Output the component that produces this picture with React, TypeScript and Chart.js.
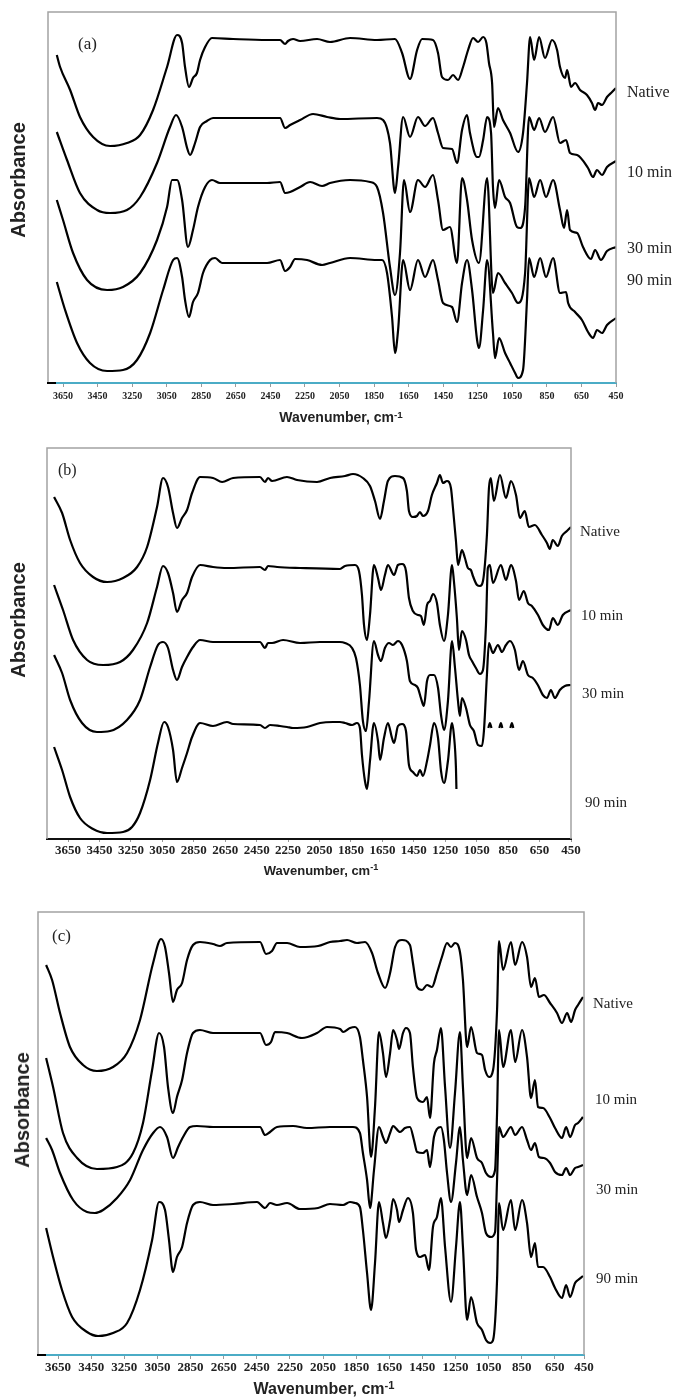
import React, { useEffect, useRef } from 'react';
import { Chart, registerables } from 'chart.js';

Chart.register(...registerables);

type Pt = [number, number | null];

// x-axis tick labels (wavenumber, cm-1)
const wavenumberTicks = [3650, 3450, 3250, 3050, 2850, 2650, 2450, 2250, 2050, 1850, 1650, 1450, 1250, 1050, 850, 650, 450];
const seriesNames = ['Native', '10 min', '30 min', '90 min'];

// ---------- Panel (a) : [wavenumber, absorbance (a.u., stacked)] ----------
const aNative: Pt[] = [[3686,328],[3667,316],[3609,293],[3552,266],[3476,246],[3378,237],[3280,240],[3204,248],[3129,273],[3048,316],[2990,348],[2961,340],[2944,316],[2921,296],[2898,305],[2875,310],[2857,323],[2828,336],[2788,345],[2666,344],[2469,343],[2394,343],[2365,339],[2348,342],[2319,344],[2278,342],[2180,344],[2105,341],[1989,345],[1833,343],[1729,344],[1688,330],[1642,304],[1601,333],[1572,344],[1509,343],[1480,330],[1457,306],[1422,303],[1393,308],[1364,303],[1335,316],[1306,333],[1277,345],[1248,341],[1219,346],[1200,340],[1185,320],[1167,300],[1156,256],[1133,275],[1104,263],[1063,250],[1017,231],[988,250],[965,300],[947,346],[924,323],[895,346],[861,325],[820,343],[791,333],[774,316],[745,305],[733,313],[710,296],[687,300],[658,293],[618,288],[589,280],[571,273],[554,280],[531,278],[502,286],[473,291],[450,295]];
const a10min: Pt[] = [[3686,251],[3627,223],[3552,190],[3453,173],[3378,170],[3280,173],[3204,186],[3106,220],[3031,256],[2996,268],[2961,256],[2932,235],[2915,228],[2886,240],[2857,256],[2817,262],[2782,265],[2469,265],[2394,265],[2365,255],[2336,258],[2278,263],[2203,269],[2122,266],[2047,264],[1833,265],[1798,263],[1758,240],[1729,190],[1711,216],[1682,266],[1642,246],[1596,266],[1555,257],[1509,265],[1480,250],[1451,235],[1399,234],[1370,220],[1341,253],[1312,268],[1295,250],[1254,226],[1243,226],[1219,243],[1196,266],[1173,250],[1162,196],[1150,175],[1127,203],[1092,186],[1063,180],[1023,156],[1005,155],[976,176],[953,266],[924,253],[895,265],[861,251],[814,266],[774,240],[739,243],[716,230],[675,228],[612,215],[583,206],[560,213],[531,208],[502,216],[450,222]];
const a30min: Pt[] = [[3686,183],[3650,163],[3592,130],[3511,103],[3395,93],[3303,96],[3204,110],[3106,143],[3048,176],[3019,203],[2990,203],[2961,183],[2927,136],[2898,153],[2869,176],[2828,196],[2788,203],[2742,200],[2469,200],[2394,201],[2365,190],[2336,191],[2278,196],[2220,201],[2151,197],[2105,200],[1989,203],[1873,201],[1833,196],[1798,170],[1758,116],[1729,88],[1700,130],[1677,203],[1642,171],[1596,203],[1555,196],[1509,208],[1480,183],[1451,153],[1411,156],[1370,120],[1341,205],[1312,183],[1283,143],[1243,120],[1196,205],[1162,90],[1133,110],[1092,100],[1052,90],[1017,80],[976,110],[953,205],[924,186],[889,203],[855,186],[814,203],[774,173],[751,155],[733,173],[716,153],[675,150],[641,136],[595,124],[571,133],[537,123],[502,132],[450,136]];
const a90min: Pt[] = [[3686,101],[3638,73],[3569,40],[3494,20],[3395,12],[3303,13],[3222,23],[3146,50],[3071,93],[3013,123],[2990,125],[2961,106],[2944,83],[2921,66],[2898,81],[2869,90],[2840,110],[2799,123],[2770,125],[2730,120],[2469,120],[2394,123],[2365,112],[2336,116],[2307,124],[2238,123],[2151,118],[2105,120],[1989,125],[1833,123],[1804,123],[1775,110],[1746,66],[1729,30],[1711,53],[1682,123],[1642,93],[1596,123],[1555,106],[1509,123],[1480,103],[1451,80],[1399,76],[1370,61],[1341,100],[1312,123],[1283,93],[1254,43],[1243,35],[1219,73],[1196,123],[1162,50],[1150,25],[1127,45],[1092,30],[1063,20],[1034,10],[1017,5],[988,13],[965,83],[953,125],[924,106],[889,125],[855,106],[814,125],[774,90],[739,91],[727,80],[687,71],[647,63],[612,51],[583,45],[560,53],[531,50],[502,58],[450,65]];

// ---------- Panel (b) ----------
const bNative: Pt[] = [[3739,342],[3688,326],[3637,299],[3574,276],[3491,262],[3402,257],[3300,261],[3211,272],[3147,292],[3084,332],[3046,361],[3014,352],[2982,326],[2957,311],[2925,321],[2893,329],[2861,346],[2810,362],[2728,361],[2670,357],[2600,361],[2429,362],[2397,357],[2378,361],[2352,358],[2257,362],[2193,359],[2066,357],[1983,361],[1888,363],[1837,365],[1774,361],[1729,353],[1697,338],[1665,320],[1640,338],[1615,358],[1570,363],[1519,361],[1494,348],[1481,328],[1456,322],[1430,323],[1411,327],[1392,323],[1360,328],[1335,344],[1303,356],[1284,364],[1265,356],[1239,358],[1214,351],[1201,331],[1182,298],[1169,274],[1144,289],[1125,281],[1106,271],[1087,269],[1074,263],[1048,254],[1029,253],[1010,258],[985,304],[972,351],[960,361],[941,338],[902,364],[864,341],[832,358],[800,344],[775,321],[744,328],[718,312],[680,314],[635,304],[603,296],[585,290],[566,299],[534,293],[508,303],[476,308],[450,312]];
const b10min: Pt[] = [[3739,254],[3682,229],[3618,199],[3529,179],[3427,174],[3319,177],[3237,189],[3147,216],[3084,252],[3046,273],[3014,266],[2982,246],[2957,227],[2925,239],[2893,246],[2861,262],[2810,274],[2728,272],[2639,271],[2429,272],[2397,269],[2378,273],[2320,272],[2174,271],[1920,270],[1888,273],[1824,274],[1799,268],[1780,244],[1767,214],[1748,199],[1729,224],[1704,274],[1678,261],[1659,249],[1634,264],[1615,274],[1576,264],[1551,274],[1525,275],[1500,268],[1481,241],[1456,228],[1424,224],[1405,223],[1386,214],[1366,234],[1347,238],[1328,245],[1303,236],[1284,214],[1258,198],[1233,224],[1207,274],[1195,258],[1176,221],[1163,189],[1144,208],[1118,199],[1099,184],[1080,178],[1055,171],[1029,165],[1010,169],[991,214],[979,271],[966,274],[947,256],[896,274],[864,259],[832,274],[800,258],[781,239],[750,248],[724,236],[699,233],[660,224],[629,214],[590,209],[566,221],[534,214],[502,224],[450,229]];
const b30min: Pt[] = [[3739,184],[3688,166],[3637,139],[3561,116],[3466,107],[3383,108],[3275,119],[3192,139],[3128,172],[3078,194],[3046,197],[3014,191],[2982,169],[2957,159],[2925,172],[2893,182],[2855,192],[2810,199],[2728,197],[2429,197],[2397,191],[2378,196],[2352,196],[2282,199],[2174,196],[2047,197],[1920,197],[1888,196],[1843,191],[1818,181],[1793,154],[1774,118],[1754,108],[1735,138],[1704,198],[1678,184],[1659,178],[1634,191],[1608,196],[1583,194],[1551,198],[1525,194],[1494,178],[1475,158],[1443,154],[1424,151],[1405,141],[1386,133],[1366,158],[1347,164],[1322,164],[1296,151],[1277,124],[1258,109],[1233,138],[1207,198],[1188,171],[1169,138],[1157,123],[1144,141],[1118,131],[1093,114],[1068,108],[1042,94],[1017,93],[1004,108],[985,164],[972,196],[947,186],[915,194],[889,187],[864,194],[839,198],[807,189],[781,169],[756,178],[724,164],[693,161],[661,154],[629,144],[603,141],[578,149],[553,141],[521,149],[489,153],[450,154]];
const b90min: Pt[] = [[3739,92],[3688,69],[3637,42],[3574,21],[3491,10],[3402,6],[3300,7],[3243,12],[3192,26],[3128,59],[3078,96],[3039,117],[3014,112],[2982,89],[2957,57],[2925,71],[2893,86],[2861,102],[2810,116],[2728,113],[2639,117],[2600,115],[2429,114],[2397,111],[2365,114],[2302,113],[2257,112],[2219,111],[2130,112],[2047,116],[1964,117],[1920,117],[1888,116],[1843,114],[1812,116],[1793,111],[1780,84],[1761,58],[1748,50],[1729,78],[1704,116],[1678,98],[1665,79],[1640,101],[1615,116],[1589,101],[1576,96],[1551,113],[1525,115],[1500,108],[1481,74],[1456,67],[1430,63],[1411,69],[1392,63],[1366,78],[1347,94],[1322,116],[1296,101],[1277,68],[1258,56],[1233,78],[1207,116],[1195,104],[1182,71],[1179,50],[1100,null],[976,111],[966,116],[956,111],[930,null],[906,111],[896,116],[887,111],[860,null],[836,111],[826,116],[817,111]];

// ---------- Panel (c) ----------
const cNative: Pt[] = [[3722,390],[3686,375],[3638,342],[3578,308],[3499,290],[3415,284],[3318,288],[3233,302],[3155,335],[3076,392],[3028,416],[3004,408],[2980,382],[2956,353],[2932,365],[2901,372],[2871,395],[2835,410],[2793,413],[2714,411],[2672,409],[2630,412],[2430,413],[2394,401],[2358,404],[2328,412],[2267,412],[2189,408],[2080,409],[2008,413],[1947,414],[1905,415],[1845,412],[1796,413],[1754,402],[1718,382],[1675,367],[1645,382],[1615,408],[1573,415],[1525,410],[1507,392],[1482,368],[1452,365],[1422,370],[1392,368],[1362,382],[1332,398],[1301,412],[1277,408],[1253,412],[1223,403],[1205,375],[1180,308],[1156,328],[1120,302],[1090,300],[1071,285],[1047,278],[1023,285],[999,345],[987,414],[963,385],[915,413],[890,390],[848,413],[818,398],[794,368],[770,377],[746,358],[716,360],[679,352],[637,342],[607,332],[576,342],[552,333],[528,345],[510,350],[480,358]];
const c10min: Pt[] = [[3722,297],[3680,268],[3620,222],[3535,197],[3415,186],[3294,188],[3197,202],[3137,232],[3082,285],[3040,322],[3010,308],[2986,268],[2956,242],[2932,258],[2901,275],[2871,302],[2835,322],[2793,325],[2714,322],[2430,322],[2394,310],[2364,313],[2340,323],[2267,322],[2177,317],[2086,322],[2026,328],[1947,326],[1929,323],[1887,327],[1857,328],[1827,318],[1809,295],[1784,258],[1760,198],[1736,248],[1712,323],[1688,302],[1670,278],[1645,302],[1627,325],[1603,315],[1591,306],[1567,322],[1549,327],[1525,322],[1507,288],[1482,257],[1446,253],[1422,258],[1404,237],[1380,292],[1362,305],[1338,327],[1313,268],[1283,207],[1253,262],[1223,323],[1205,268],[1180,197],[1156,217],[1120,197],[1090,192],[1066,182],[1035,178],[1011,185],[999,242],[987,325],[963,288],[915,325],[890,293],[848,325],[818,298],[794,257],[770,275],[752,248],[721,247],[679,237],[649,227],[607,217],[582,228],[558,218],[528,230],[510,232],[480,238]];
const c30min: Pt[] = [[3722,217],[3686,205],[3638,182],[3559,155],[3475,143],[3427,142],[3378,145],[3294,157],[3215,175],[3137,205],[3076,222],[3034,228],[2992,218],[2956,197],[2925,208],[2895,218],[2853,228],[2811,229],[2714,228],[2430,228],[2400,220],[2370,223],[2328,228],[2231,229],[2147,227],[2008,228],[1869,228],[1827,222],[1809,202],[1784,175],[1766,147],[1742,185],[1712,228],[1688,218],[1670,212],[1645,222],[1627,229],[1585,223],[1555,227],[1525,228],[1501,215],[1482,203],[1446,202],[1422,205],[1404,188],[1380,218],[1362,226],[1338,228],[1320,215],[1301,182],[1277,153],[1247,192],[1223,228],[1205,195],[1180,160],[1156,180],[1120,158],[1090,142],[1066,122],[1035,118],[1011,123],[999,175],[987,228],[963,218],[915,228],[890,220],[848,228],[818,215],[794,205],[770,212],[746,198],[716,197],[679,192],[649,183],[607,180],[582,187],[558,180],[528,187],[510,188],[480,190]];
const c90min: Pt[] = [[3722,127],[3680,98],[3626,65],[3565,38],[3475,23],[3408,19],[3318,22],[3233,32],[3155,65],[3082,115],[3040,153],[3004,145],[2980,115],[2956,83],[2932,98],[2901,108],[2871,132],[2835,150],[2793,153],[2714,150],[2593,151],[2448,153],[2400,147],[2370,152],[2328,150],[2267,152],[2189,146],[2080,147],[2008,151],[1929,150],[1887,153],[1857,152],[1827,148],[1809,125],[1784,82],[1760,45],[1736,92],[1712,153],[1688,132],[1670,117],[1645,135],[1627,156],[1603,145],[1591,133],[1567,145],[1537,157],[1507,142],[1488,105],[1464,98],[1434,100],[1410,85],[1386,128],[1362,138],[1338,157],[1313,108],[1277,53],[1247,108],[1223,153],[1205,108],[1180,35],[1156,58],[1120,32],[1090,25],[1066,15],[1041,12],[1023,15],[999,75],[987,152],[963,125],[915,155],[890,125],[848,155],[818,132],[794,98],[770,112],[752,88],[721,88],[679,78],[649,67],[607,57],[582,70],[558,58],[528,72],[510,75],[480,79]];

type PanelCfg = {
  series: Pt[][];
  xMin: number;
  xMax: number;
  yMax: number;
  left: number; right: number; top: number; bottom: number;
  axisColor: string;
  blackStub: boolean;
  tickSize: number; tickLength: number; tickPad: number;
};

const PAD = 30;
const PADT = 6;
const AXIS_H = 30;

const framePlugin = {
  id: 'frame',
  afterDatasetsDraw(chart: any, _args: any, opts: any) {
    const { ctx, chartArea: a } = chart;
    ctx.save();
    ctx.strokeStyle = '#a3a3a3';
    ctx.lineWidth = 1.5;
    ctx.beginPath();
    ctx.moveTo(a.left, a.bottom);
    ctx.lineTo(a.left, a.top);
    ctx.lineTo(a.right, a.top);
    ctx.lineTo(a.right, a.bottom);
    ctx.stroke();
    if (opts && opts.blackStub) {
      ctx.strokeStyle = '#000';
      ctx.lineWidth = 2;
      ctx.beginPath();
      ctx.moveTo(a.left - 1, a.bottom);
      ctx.lineTo(a.left + 8, a.bottom);
      ctx.stroke();
    }
    ctx.restore();
  },
};

function Panel({ cfg }: { cfg: PanelCfg }) {
  const ref = useRef<HTMLCanvasElement>(null);
  const w = cfg.right - cfg.left + 2 * PAD;
  const h = PADT + (cfg.bottom - cfg.top) + AXIS_H;
  useEffect(() => {
    if (!ref.current) return;
    const chart = new Chart(ref.current, {
      type: 'line',
      data: {
        datasets: cfg.series.map((s, i) => ({
          label: seriesNames[i],
          data: s.map(([x, y]) => ({ x, y })),
          borderColor: '#000',
          borderWidth: 2.2,
          pointRadius: 0,
          fill: false,
          spanGaps: false,
          cubicInterpolationMode: 'monotone',
        })),
      } as any,
      options: {
        animation: false,
        responsive: false,
        maintainAspectRatio: false,
        devicePixelRatio: 1,
        layout: { padding: { left: PAD, right: PAD, top: PADT, bottom: 0 } },
        plugins: {
          legend: { display: false },
          tooltip: { enabled: false },
          frame: { blackStub: cfg.blackStub },
        } as any,
        scales: {
          x: {
            type: 'linear',
            reverse: true,
            min: cfg.xMin,
            max: cfg.xMax,
            afterBuildTicks: (scale: any) => {
              // the last label sits at the axis end (squeezed, as in the original)
              scale.ticks = wavenumberTicks.map((v) => ({ value: Math.max(v, cfg.xMin) }));
            },
            afterFit: (scale: any) => {
              scale.height = AXIS_H;
            },
            grid: { drawOnChartArea: false, drawTicks: true, tickLength: cfg.tickLength, color: '#9a9a9a' },
            border: { display: true, color: cfg.axisColor, width: 2 },
            ticks: {
              autoSkip: false,
              maxRotation: 0,
              minRotation: 0,
              padding: cfg.tickPad,
              color: '#222',
              font: { family: 'Liberation Serif', weight: 'bold', size: cfg.tickSize },
              callback: (_v: any, idx: number) => String(wavenumberTicks[idx]),
            },
          },
          y: { display: false, min: 0, max: cfg.yMax },
        },
      } as any,
      plugins: [framePlugin],
    });
    return () => chart.destroy();
  }, []);
  return (
    <canvas
      ref={ref}
      width={w}
      height={h}
      style={{ position: 'absolute', left: cfg.left - PAD, top: cfg.top - PADT, width: w, height: h }}
    />
  );
}

type TextProps = {
  x: number; y: number; text: React.ReactNode; size: number;
  family?: string; bold?: boolean; center?: boolean; rotate?: boolean;
};

function Txt({ x, y, text, size, family = 'Liberation Serif', bold = false, center = false, rotate = false }: TextProps) {
  let transform = center ? 'translate(-50%,-50%)' : 'translateY(-50%)';
  if (rotate) transform = 'translate(-50%,-50%) rotate(-90deg)';
  return (
    <div
      style={{
        position: 'absolute', left: x, top: y, transform, fontSize: size, fontFamily: family,
        fontWeight: bold ? 'bold' : 'normal', whiteSpace: 'nowrap', lineHeight: 1, color: '#222',
      }}
    >
      {text}
    </div>
  );
}

const panelA: PanelCfg = { series: [aNative, a10min, a30min, a90min], xMin: 450, xMax: 3737, yMax: 371, left: 48, right: 616, top: 12, bottom: 383, axisColor: '#4bacc6', blackStub: true, tickSize: 10, tickLength: 4, tickPad: 3 };
const panelB: PanelCfg = { series: [bNative, b10min, b30min, b90min], xMin: 450, xMax: 3784, yMax: 391, left: 47, right: 571, top: 448, bottom: 839, axisColor: '#111', blackStub: false, tickSize: 13, tickLength: 3, tickPad: 1 };
const panelC: PanelCfg = { series: [cNative, c10min, c30min, c90min], xMin: 474, xMax: 3771, yMax: 443, left: 38, right: 584, top: 912, bottom: 1355, axisColor: '#4bacc6', blackStub: true, tickSize: 13, tickLength: 4, tickPad: 1 };

const wnTitle = (
  <span>
    Wavenumber, cm<sup style={{ fontSize: '0.7em', verticalAlign: '0.45em', lineHeight: 0 }}>-1</sup>
  </span>
);

export default function App() {
  return (
    <div style={{ position: 'absolute', left: 0, top: 0, width: 679, height: 1398, background: '#fff', overflow: 'hidden' }}>
      <Panel cfg={panelA} />
      <Panel cfg={panelB} />
      <Panel cfg={panelC} />

      {/* panel (a) */}
      <Txt x={78} y={43} text="(a)" size={17} />
      <Txt x={18} y={180} text="Absorbance" size={20} family="Liberation Sans" bold rotate />
      <Txt x={341} y={417} text={wnTitle} size={14} family="Liberation Sans" bold center />
      <Txt x={627} y={92} text="Native" size={16} />
      <Txt x={627} y={172} text="10 min" size={16} />
      <Txt x={627} y={248} text="30 min" size={16} />
      <Txt x={627} y={280} text="90 min" size={16} />

      {/* panel (b) */}
      <Txt x={58} y={470} text="(b)" size={16} />
      <Txt x={18} y={620} text="Absorbance" size={20} family="Liberation Sans" bold rotate />
      <Txt x={321} y={870} text={wnTitle} size={13} family="Liberation Sans" bold center />
      <Txt x={580} y={531} text="Native" size={15} />
      <Txt x={581} y={615} text="10 min" size={15} />
      <Txt x={582} y={693} text="30 min" size={15} />
      <Txt x={585} y={802} text="90 min" size={15} />

      {/* panel (c) */}
      <Txt x={52} y={935} text="(c)" size={17} />
      <Txt x={22} y={1110} text="Absorbance" size={20} family="Liberation Sans" bold rotate />
      <Txt x={324} y={1389} text={wnTitle} size={16} family="Liberation Sans" bold center />
      <Txt x={593} y={1003} text="Native" size={15} />
      <Txt x={595} y={1099} text="10 min" size={15} />
      <Txt x={596} y={1189} text="30 min" size={15} />
      <Txt x={596} y={1278} text="90 min" size={15} />
    </div>
  );
}
